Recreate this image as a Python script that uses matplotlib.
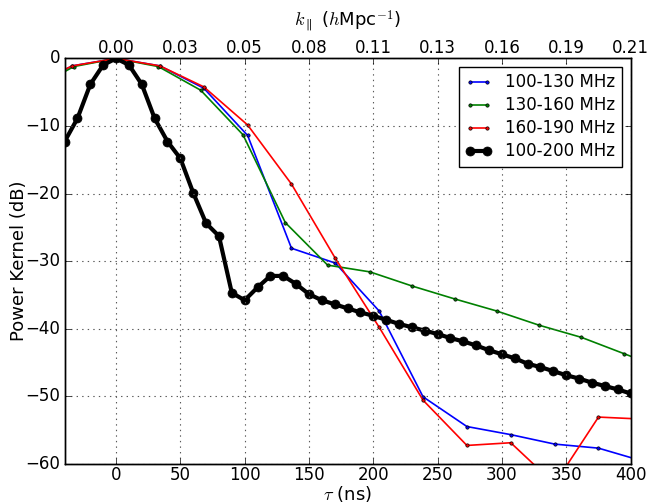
import matplotlib
matplotlib.use("Agg")
import matplotlib.pyplot as plt

# ---- data ----
tau_blue = [-68.2, -34.1, 0, 34.1, 68.2, 102.3, 136.4, 170.5, 204.6, 238.7, 272.8, 306.9, 341.0, 375.1, 409.2]
db_blue = [-4.4, -1.1, 0.0, -1.1, -4.4, -11.4, -28.1, -30.3, -37.4, -50.1, -54.5, -55.7, -57.1, -57.7, -59.6]

tau_green = [-65.8, -32.9, 0, 32.9, 65.8, 98.7, 131.6, 164.5, 197.4, 230.3, 263.2, 296.1, 329.0, 361.9, 394.8, 427.7]
db_green = [-4.7, -1.2, 0.0, -1.2, -4.7, -11.3, -24.3, -30.6, -31.6, -33.7, -35.6, -37.4, -39.5, -41.3, -43.7, -46.1]

tau_red = [-68.2, -34.1, 0, 34.1, 68.2, 102.3, 136.4, 170.5, 204.6, 238.7, 272.8, 306.9, 341.0, 375.1, 409.2]
db_red = [-4.2, -1.1, 0.0, -1.1, -4.2, -9.85, -18.6, -29.6, -39.8, -50.6, -57.3, -56.9, -63.0, -53.1, -53.4]

tau_black = [-40, -30, -20, -10, 0, 10, 20, 30, 40, 50, 60, 70, 80, 90, 100, 110, 120, 130, 140,
             150, 160, 170, 180, 190, 200, 210, 220, 230, 240, 250, 260, 270, 280, 290, 300,
             310, 320, 330, 340, 350, 360, 370, 380, 390, 400]
db_black = [-12.3, -8.87, -3.83, -0.96, 0.0, -0.96, -3.83, -8.87, -12.3, -14.8, -19.9, -24.4, -26.3,
            -34.7, -35.8, -33.9, -32.2, -32.2, -33.4, -34.9, -35.8, -36.4, -37.0, -37.6, -38.1,
            -38.7, -39.3, -39.8, -40.3, -40.8, -41.4, -41.9, -42.5, -43.2, -43.8, -44.4, -45.2,
            -45.7, -46.3, -46.9, -47.4, -48.0, -48.5, -49.0, -49.6]

labels = ["100-130 MHz", "130-160 MHz", "160-190 MHz", "100-200 MHz"]
top_tick_pos = [0, 50, 100, 150, 200, 250, 300, 350, 400]
top_tick_labels = ["0.00", "0.03", "0.05", "0.08", "0.11", "0.13", "0.16", "0.19", "0.21"]

plt.style.use("classic")
plt.rcParams["figure.facecolor"] = "white"
plt.rcParams["savefig.facecolor"] = "white"
plt.rcParams["mathtext.fontset"] = "cm"

fig = plt.figure(figsize=(6.5, 5.04), dpi=100)
ax = fig.add_axes([0.0994, 0.080, 0.8706, 0.804])

ms = 3
ax.plot(tau_blue, db_blue, "b.-", lw=1.2, ms=ms * 1.6, mec="k", mew=0.5, label=labels[0])
ax.plot(tau_green, db_green, "g.-", lw=1.2, ms=ms * 1.6, mec="k", mew=0.5, label=labels[1])
ax.plot(tau_red, db_red, "r.-", lw=1.2, ms=ms * 1.6, mec="k", mew=0.5, label=labels[2])
ax.plot(tau_black, db_black, "k.-", lw=3, ms=13, label=labels[3])

ax.set_xlim(-40, 400)
ax.set_ylim(-60, 0)
ax.set_xticks([0, 50, 100, 150, 200, 250, 300, 350, 400])
ax.set_yticks([0, -10, -20, -30, -40, -50, -60])
ax.grid(True, color="0.35", linestyle=":", linewidth=0.8)
ax.set_xlabel(r"$\tau$ (ns)", fontsize=13, labelpad=0)
ax.set_ylabel("Power Kernel (dB)", fontsize=13, labelpad=-2)
ax.tick_params(axis="x", labelsize=12, pad=2)
ax.tick_params(axis="y", labelsize=12, pad=3)

leg = ax.legend(loc="upper right", fontsize=12, numpoints=2, handlelength=1.6,
                borderaxespad=0.5, labelspacing=0.3, fancybox=False)

ax2 = ax.twiny()
ax2.set_xlim(ax.get_xlim())
ax2.set_xticks(top_tick_pos)
ax2.set_xticklabels(top_tick_labels)
ax2.tick_params(labelsize=12, pad=1)
ax2.set_xlabel(r"$k_\parallel$ ($h$Mpc$^{-1}$)", fontsize=13, labelpad=9)

fig.savefig("out.png", dpi=100)
